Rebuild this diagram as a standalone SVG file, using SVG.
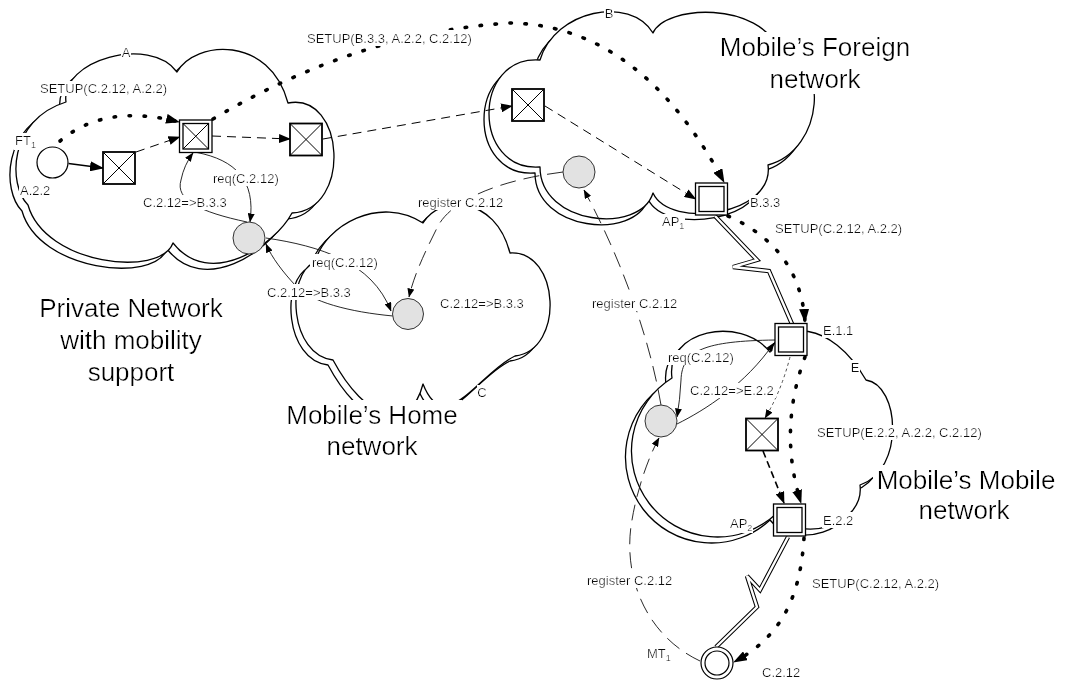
<svg xmlns="http://www.w3.org/2000/svg" width="1066" height="681" viewBox="0 0 1066 681">
<style>
  .cl{fill:#fff;stroke:#000;stroke-width:1.3;stroke-linejoin:round}
  .bx{fill:#fff;stroke:#000;stroke-width:1.8}
  .db{fill:#fff;stroke:#000;stroke-width:1.3}
  .xx{fill:none;stroke:#000;stroke-width:1}
  .gr{fill:#e2e2e2;stroke:#333;stroke-width:1}
  .wc{fill:#fff;stroke:#000;stroke-width:1.2}
  .t{font-family:"Liberation Sans",Arial,sans-serif;font-size:13px;fill:#111;filter:url(#bg)}
  .big{font-size:26px;text-anchor:middle;fill:#000}
  .mid{text-anchor:middle}
  .dot{fill:none;stroke:#000;stroke-width:3.6;stroke-dasharray:1.5 13.5;stroke-linecap:round}
  .dsh{fill:none;stroke:#000;stroke-width:1;stroke-dasharray:9 6}
  .fine{fill:none;stroke:#222;stroke-width:0.8;stroke-dasharray:3 3}
  .dsh2{fill:none;stroke:#000;stroke-width:1.6;stroke-dasharray:7 4}
  .thin{fill:none;stroke:#111;stroke-width:0.9}
  .reg{fill:none;stroke:#111;stroke-width:0.9;stroke-dasharray:16 8}
  .solid{fill:none;stroke:#000;stroke-width:1.4}
  .bo{fill:none;stroke:#000;stroke-width:4.4;stroke-linejoin:miter;stroke-miterlimit:3}
  .bi{fill:none;stroke:#fff;stroke-width:2.4;stroke-linejoin:miter;stroke-miterlimit:3}
</style>
<defs>
  <filter id="bg" x="-0.02" y="0" width="1.04" height="1">
    <feFlood flood-color="#fff"/>
    <feComposite in="SourceGraphic"/>
  </filter>
  <marker id="aL" viewBox="0 0 14 10" refX="13" refY="5" markerWidth="14" markerHeight="10" markerUnits="userSpaceOnUse" orient="auto">
    <path d="M0,0 L14,5 L0,10 Z" fill="#000"/>
  </marker>
  <marker id="aM" viewBox="0 0 12 9" refX="11" refY="4.5" markerWidth="12" markerHeight="9" markerUnits="userSpaceOnUse" orient="auto">
    <path d="M0,0 L12,4.5 L0,9 Z" fill="#000"/>
  </marker>
  <marker id="aS" viewBox="0 0 9 7" refX="8.5" refY="3.5" markerWidth="9" markerHeight="7" markerUnits="userSpaceOnUse" orient="auto">
    <path d="M0,0 L9,3.5 L0,7 Z" fill="#000"/>
  </marker>
  <!-- cloud outlines: each is drawn twice, a shifted copy behind the front one -->
  <path id="shapeA" d="M66,102 C60,60 150,35 177,72 C195,40 270,35 288,103 C345,92 352,210 292,213 C275,245 210,290 173,243 C160,278 45,265 28,205 C8,185 8,120 66,102 Z"/>
  <path id="shapeB" d="M540,60 C555,10 630,-5 653,33 C665,5 760,0 780,52 C830,55 825,150 768,165 C775,215 670,230 653,193 C640,235 540,225 540,167 C472,172 472,55 540,60 Z"/>
  <path id="shapeC" d="M315,262 C325,225 380,195 423,223 C440,195 495,195 510,253 C560,250 565,350 515,356 C480,372 445,440 423,384 C410,435 365,420 333,360 C290,355 285,275 315,262 Z"/>
  <path id="shapeE" d="M672,378 C665,330 740,315 770,352 C780,322 830,318 866,380 C900,385 905,470 860,485 C865,525 800,545 776,514 A86,86 0 1 1 672,378 Z"/>
</defs>

<rect width="1066" height="681" fill="#fff"/>

<!-- networks -->
<g id="cloud-private">
  <use href="#shapeA" class="cl" transform="translate(-6,6)"/>
  <use href="#shapeA" class="cl"/>
</g>
<g id="cloud-foreign">
  <use href="#shapeB" class="cl" transform="translate(-5,6)"/>
  <use href="#shapeB" class="cl"/>
</g>
<g id="cloud-home">
  <use href="#shapeC" class="cl" transform="translate(-5,5)"/>
  <use href="#shapeC" class="cl"/>
</g>
<g id="cloud-mobile">
  <use href="#shapeE" class="cl" transform="translate(-6,6)"/>
  <use href="#shapeE" class="cl"/>
</g>

<!-- connectors -->
<g id="connectors">
  <!-- radio links -->
  <polyline class="bo" points="715,216 757,260 733,267 769,271 792,324"/>
  <polyline class="bi" points="715,216 757,260 733,267 769,271 792,324"/>
  <polyline class="bo" points="788,537 760,590 747,576 757,607 716,647"/>
  <polyline class="bi" points="788,537 760,590 747,576 757,607 716,647"/>

  <!-- call setup path -->
  <path class="solid" d="M68.5,163.5 L103,168" marker-end="url(#aL)"/>
  <path class="dot" d="M60,141 Q105,103 179,122" marker-end="url(#aL)"/>
  <path class="dot" d="M213,119 Q360,32 510,23 Q640,25 724,182" marker-end="url(#aL)"/>
  <path class="dot" d="M728,216 Q800,248 805,322" marker-end="url(#aL)"/>
  <path class="dot" d="M805,357 Q778,430 801,503" marker-end="url(#aL)"/>
  <path class="dot" d="M804,538 C800,600 780,637 734,662" marker-end="url(#aL)"/>

  <!-- bearer path -->
  <path class="dsh" d="M136,152 L179.5,137" marker-end="url(#aM)"/>
  <path class="dsh" d="M212,136 L290,139" marker-end="url(#aM)"/>
  <path class="dsh" d="M323,139 L512,106" marker-end="url(#aM)"/>
  <path class="dsh" d="M545,106 L695.5,199" marker-end="url(#aM)"/>
  <path class="fine" d="M790,357 Q781,392 765,418" marker-end="url(#aS)"/>
  <path class="dsh2" d="M763,451 L784,503" marker-end="url(#aM)"/>

  <!-- location queries -->
  <path class="thin" d="M197,152.5 C235,160 256,180 250,222" marker-end="url(#aS)"/>
  <path class="thin" d="M247,222 C200,212 175,200 181,180 Q184,165 193,153" marker-end="url(#aS)"/>
  <path class="thin" d="M266,238 C320,246 372,262 391,311" marker-end="url(#aS)"/>
  <path class="thin" d="M393,316 C350,312 310,302 295,285 C283,272 272,258 266,244" marker-end="url(#aS)"/>
  <path class="thin" d="M775,340 C705,341 682,350 681,380 Q680,400 677,417" marker-end="url(#aS)"/>
  <path class="thin" d="M677,424 C705,410 745,385 774,343" marker-end="url(#aS)"/>

  <!-- registrations -->
  <path class="reg" d="M563,172 C500,180 450,200 437,228 C425,252 414,275 409,297" marker-end="url(#aS)"/>
  <path class="reg" d="M661,405 C650,340 622,260 584,190" marker-end="url(#aS)"/>
  <path class="reg" d="M700,661 C645,635 622,575 632,520 C637,490 648,458 659,438" marker-end="url(#aS)"/>
</g>

<!-- terminals and switches -->
<g id="ft1"><circle class="wc" cx="52.5" cy="162.5" r="15.5"/></g>
<g id="sw-a1">
  <rect class="bx" x="103" y="152" width="32" height="32"/>
  <path class="xx" d="M103,152 L135,184 M135,152 L103,184"/>
</g>
<g id="sw-a2">
  <rect class="db" x="179.5" y="120" width="32.5" height="32.5"/>
  <rect class="db" x="183" y="123.5" width="25.5" height="25.5"/>
  <path class="xx" d="M183,123.5 L208.5,149 M208.5,123.5 L183,149"/>
</g>
<g id="sw-a3">
  <rect class="bx" x="290" y="123.5" width="32" height="32"/>
  <path class="xx" d="M290,123.5 L322,155.5 M322,123.5 L290,155.5"/>
</g>
<g id="loc-a"><circle class="gr" cx="249" cy="238" r="16"/></g>

<g id="sw-b1">
  <rect class="bx" x="512" y="89" width="32" height="32"/>
  <path class="xx" d="M512,89 L544,121 M544,89 L512,121"/>
</g>
<g id="loc-b"><circle class="gr" cx="579" cy="172" r="16"/></g>
<g id="ap-b33">
  <rect class="db" x="695.5" y="183" width="32" height="32"/>
  <rect class="db" x="699" y="186.5" width="25" height="25"/>
</g>

<g id="loc-c"><circle class="gr" cx="408" cy="314" r="15.5"/></g>

<g id="ap-e11">
  <rect class="db" x="775" y="323.5" width="32" height="32"/>
  <rect class="db" x="778.5" y="327" width="25" height="25"/>
</g>
<g id="sw-e">
  <rect class="bx" x="746" y="418.5" width="32" height="32"/>
  <path class="xx" d="M746,418.5 L778,450.5 M778,418.5 L746,450.5"/>
</g>
<g id="loc-e"><circle class="gr" cx="661" cy="421" r="16"/></g>
<g id="ap-e22">
  <rect class="db" x="773.5" y="504" width="32" height="32"/>
  <rect class="db" x="777" y="507.5" width="25" height="25"/>
</g>
<g id="mt1">
  <circle class="wc" cx="717" cy="663" r="16"/>
  <circle class="wc" cx="717" cy="663" r="12"/>
</g>

<!-- labels -->
<g id="labels">
  <text class="t mid" x="126" y="56.5">A</text>
  <text class="t" x="40" y="93">SETUP(C.2.12, A.2.2)</text>
  <text class="t" x="15" y="145">FT<tspan font-size="9" dy="3">1</tspan></text>
  <text class="t" x="20" y="195">A.2.2</text>
  <text class="t" x="213" y="182.5">req(C.2.12)</text>
  <text class="t" x="143" y="207">C.2.12=&gt;B.3.3</text>

  <text class="t" x="307" y="42.5">SETUP(B.3.3, A.2.2, C.2.12)</text>
  <text class="t mid" x="609" y="17.5">B</text>
  <text class="t" x="418" y="207">register C.2.12</text>
  <text class="t" x="662" y="226">AP<tspan font-size="9" dy="3">1</tspan></text>
  <text class="t" x="750" y="207">B.3.3</text>
  <text class="t" x="775" y="233">SETUP(C.2.12, A.2.2)</text>

  <text class="t" x="312" y="266.5">req(C.2.12)</text>
  <text class="t" x="267" y="296.5">C.2.12=&gt;B.3.3</text>
  <text class="t" x="440" y="308">C.2.12=&gt;B.3.3</text>
  <text class="t mid" x="482" y="397">C</text>
  <text class="t" x="592" y="308">register C.2.12</text>

  <text class="t" x="823" y="334.5">E.1.1</text>
  <text class="t" x="668" y="362">req(C.2.12)</text>
  <text class="t mid" x="855" y="372">E</text>
  <text class="t" x="690" y="395">C.2.12=&gt;E.2.2</text>
  <text class="t" x="817" y="437">SETUP(E.2.2, A.2.2, C.2.12)</text>
  <text class="t" x="730" y="527.5">AP<tspan font-size="9" dy="3">2</tspan></text>
  <text class="t" x="823" y="524.5">E.2.2</text>
  <text class="t" x="587" y="585">register C.2.12</text>
  <text class="t" x="812" y="588">SETUP(C.2.12, A.2.2)</text>
  <text class="t" x="647" y="658">MT<tspan font-size="9" dy="3">1</tspan></text>
  <text class="t" x="762" y="677">C.2.12</text>

  <text class="t big" x="131" y="317">Private Network<tspan x="131" dy="32">with mobility</tspan><tspan x="131" dy="32">support</tspan></text>
  <text class="t big" x="372" y="424">Mobile’s Home<tspan x="372" dy="31">network</tspan></text>
  <text class="t big" x="815" y="56">Mobile’s Foreign<tspan x="815" dy="32">network</tspan></text>
  <text class="t big" x="966" y="489">Mobile’s Mobile<tspan x="964" dy="30">network</tspan></text>
</g>
</svg>
